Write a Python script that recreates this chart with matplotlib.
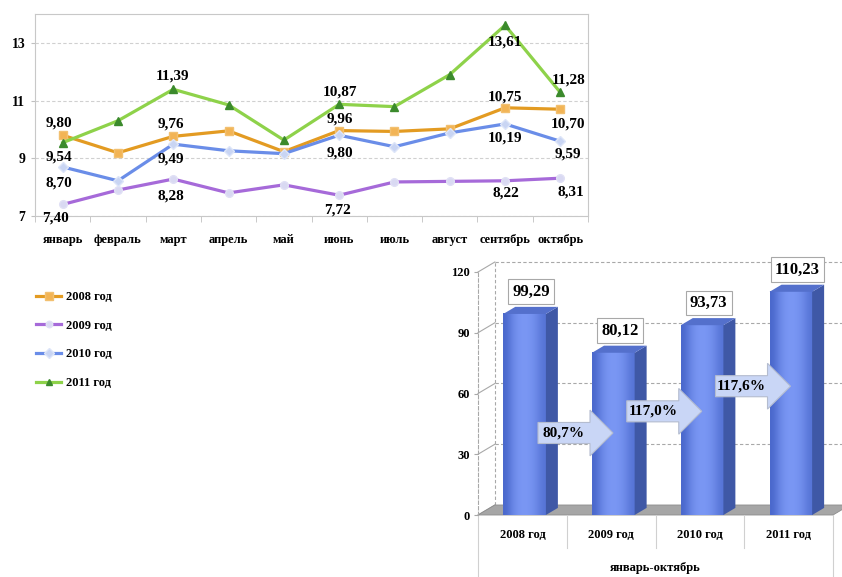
import numpy as np
import matplotlib.pyplot as plt
from matplotlib.patches import Polygon
from matplotlib.colors import LinearSegmentedColormap

plt.rcParams['font.family'] = ['Liberation Serif', 'DejaVu Serif']
plt.rcParams['font.weight'] = 'bold'

# --- данные: помесячная динамика ---
months = ['январь', 'февраль', 'март', 'апрель', 'май',
          'июнь', 'июль', 'август', 'сентябрь', 'октябрь']
years = ['2008 год', '2009 год', '2010 год', '2011 год']
v2008 = [9.80, 9.19, 9.76, 9.95, 9.23, 9.96, 9.93, 10.02, 10.75, 10.70]
v2009 = [7.40, 7.90, 8.28, 7.80, 8.08, 7.72, 8.18, 8.20, 8.22, 8.31]
v2010 = [8.70, 8.22, 9.49, 9.26, 9.16, 9.80, 9.40, 9.88, 10.19, 9.59]
v2011 = [9.54, 10.30, 11.39, 10.85, 9.63, 10.87, 10.79, 11.90, 13.61, 11.28]
label_idx = [0, 2, 5, 8, 9]   # месяцы с подписями значений

# --- данные: итог за период ---
period = 'январь-октябрь'
bar_values = [99.29, 80.12, 93.73, 110.23]
growth = ['80,7%', '117,0%', '117,6%']

W, H = 842, 577
fig = plt.figure(figsize=(W / 100, H / 100), dpi=100)


def box(l, t, r, b):
    return [l / W, 1 - b / H, (r - l) / W, (b - t) / H]


def fmt(v):
    return f'{v:.2f}'.replace('.', ',')


# ---------------------------------------------------------------------------
# Линейный график
# ---------------------------------------------------------------------------
ax = fig.add_axes(box(35, 14, 588, 216))
styles = [
    dict(color='#e39b22', marker='s', mfc='#f2b455', mec='#f2c070', ms=6),
    dict(color='#a66ad9', marker='o', mfc='#d9d9f2', mec='#e0e0f5', ms=5.5),
    dict(color='#6a8de8', marker='D', mfc='#c9d5f3', mec='#dde5f8', ms=5.5),
    dict(color='#8ed24a', marker='^', mfc='#3b8a2c', mec='#3b8a2c', ms=5.5),
]
# смещения подписей (пиксели) для точек label_idx
offsets = [
    [(-4, 12), (-2, 12), (1, 12), (0, 11), (8, -15)],
    [(-7, -14), (-2, -17), (-2, -15), (1, -12), (11, -14)],
    [(-4, -16), (-2, -15), (1, -18), (0, -14), (8, -13)],
    [(-4, -14), (-1, 13), (1, 12), (0, -17), (8, 12)],
]
x = np.arange(len(months))
for vals, name, st, offs in zip([v2008, v2009, v2010, v2011], years,
                                styles, offsets):
    ax.plot(x, vals, lw=2.3, label=name, **st)
    for k, (dx, dy) in zip(label_idx, offs):
        ax.annotate(fmt(vals[k]), (x[k], vals[k]), xytext=(dx, dy),
                    textcoords='offset pixels', ha='center', va='center',
                    fontsize=11, zorder=5)

ax.set_xlim(-0.5, 9.5)
ax.set_ylim(7, 14)
ax.set_yticks([7, 9, 11, 13])
ax.set_xticks(x)
ax.set_xticklabels(months)
ax.set_xticks(np.arange(-0.5, 9.6, 1), minor=True)
ax.tick_params(axis='x', which='major', length=0, pad=13, labelsize=9)
ax.tick_params(axis='x', which='minor', length=4, color='#c0c0c0')
ax.tick_params(axis='y', length=3, color='#c0c0c0', labelsize=10, pad=4)
ax.grid(axis='y', ls=(0, (3, 2)), color='#d0d0d0', lw=0.8)
for s in ax.spines.values():
    s.set_color('#c8c8c8')

fig.legend(loc='upper left', bbox_to_anchor=(36 / W, 1 - 291 / H),
           frameon=False, fontsize=9, handlelength=2.0,
           handletextpad=0.4, labelspacing=1.33, borderpad=0,
           borderaxespad=0, markerscale=0.85)

# ---------------------------------------------------------------------------
# Объёмная столбчатая диаграмма
# ---------------------------------------------------------------------------
bx = fig.add_axes(box(478, 272, 833, 515))
bx.set_xlim(-0.5, 3.5)
bx.set_ylim(0, 120)
DX, DY = 0.19, 4.94          # глубина задней стенки
BDX, BDY = 0.135, 3.5        # глубина столбца
grid_c = '#a8a8a8'

for t in [30, 60, 90, 120]:
    bx.plot([-0.5 + DX, 3.62], [t + DY] * 2, ls=(0, (3, 2)), color=grid_c,
            lw=0.8, clip_on=False, zorder=1)
for t in [0, 30, 60, 90, 120]:
    bx.plot([-0.5, -0.5 + DX], [t, t + DY], color=grid_c, lw=0.8,
            clip_on=False, zorder=1)
bx.plot([-0.5 + DX] * 2, [DY, 120 + DY], ls=(0, (3, 2)), color=grid_c,
        lw=0.8, clip_on=False, zorder=1)

bx.add_patch(Polygon([(-0.5, 0), (3.5, 0), (3.5 + DX, DY), (-0.5 + DX, DY)],
                     closed=True, fc='#a6a6a6', ec='#8c8c8c', lw=0.6,
                     clip_on=False, zorder=2))

bar_cmap = LinearSegmentedColormap.from_list('b', ['#4a68cc', '#7b98f5'])
grad = np.array([[0.0, 0.35, 0.55, 0.6, 0.55, 0.4, 0.15]])
for i, v in enumerate(bar_values):
    x0, x1 = i + 0.025 - 0.24, i + 0.025 + 0.24
    bx.imshow(grad, extent=(x0, x1, 0, v), aspect='auto', cmap=bar_cmap,
              vmin=0, vmax=0.6, zorder=3, interpolation='bicubic')
    bx.add_patch(Polygon([(x1, 0), (x1 + BDX, BDY), (x1 + BDX, v + BDY),
                          (x1, v)], closed=True, fc='#3f58a6', ec='none',
                         zorder=3))
    bx.add_patch(Polygon([(x0, v), (x1, v), (x1 + BDX, v + BDY),
                          (x0 + BDX, v + BDY)], closed=True, fc='#5470cc',
                         ec='none', zorder=3))
    bx.text(i + 0.1, v + 11, fmt(v), ha='center', va='center', fontsize=12,
            zorder=6, bbox=dict(boxstyle='square,pad=0.25', fc='white',
                                ec='#a8a8a8', lw=0.8))

arrow_y = [40.5, 51.2, 63.6]
for k, (txt, yc) in enumerate(zip(growth, arrow_y)):
    xs, xb, xt = k + 0.176, k + 0.762, k + 1.021
    bh, hh = 5.2, 11.3
    bx.add_patch(Polygon([(xs, yc - bh), (xb, yc - bh), (xb, yc - hh),
                          (xt, yc), (xb, yc + hh), (xb, yc + bh),
                          (xs, yc + bh)], closed=True, fc='#c9d6f6',
                         ec='#b4bccf', lw=0.8, zorder=4))
    bx.text((xs + xb) / 2, yc, txt, ha='center', va='center', fontsize=11,
            zorder=5)

# подписи категорий в виде таблицы
for i, name in enumerate(years):
    bx.text(i, -10, name, ha='center', va='center', fontsize=9)
for b in [0.5, 1.5, 2.5]:
    bx.plot([b, b], [0, -16.3], color='#d0d0d0', lw=0.8, clip_on=False)
for b in [-0.5, 3.5]:
    bx.plot([b, b], [0, -32], color='#d0d0d0', lw=0.8, clip_on=False)
bx.text(1.5, -26, period, ha='center', va='center', fontsize=9)

bx.set_xticks([])
bx.set_yticks([0, 30, 60, 90, 120])
bx.tick_params(axis='y', length=3, color=grid_c, labelsize=9, pad=3)
for side in ['top', 'right', 'bottom']:
    bx.spines[side].set_visible(False)
bx.spines['left'].set_linestyle((0, (3, 2)))
bx.spines['left'].set_color(grid_c)
bx.spines['left'].set_linewidth(0.8)

fig.savefig('out.png', dpi=100)
